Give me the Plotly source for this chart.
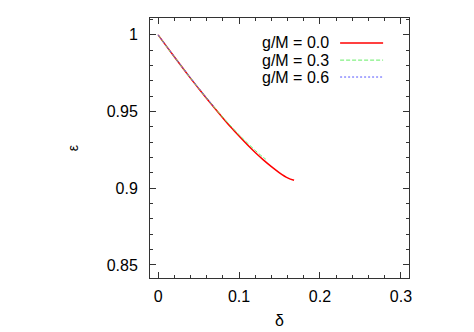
import plotly.graph_objects as go

# data
delta_00 = [0.0, 0.01, 0.02, 0.03, 0.04, 0.05, 0.06, 0.07, 0.08, 0.09, 0.10, 0.11, 0.12, 0.13, 0.14, 0.15, 0.16, 0.168]
eps_00 = [1.0, 0.9928, 0.9857, 0.9787, 0.9718, 0.9651, 0.9585, 0.9521, 0.9458, 0.9397, 0.9340, 0.9285, 0.9233, 0.9185, 0.9141, 0.9101, 0.9068, 0.9052]

delta_03 = [0.0, 0.01, 0.02, 0.03, 0.04, 0.05, 0.06, 0.07, 0.08, 0.09, 0.10, 0.11, 0.12, 0.13, 0.133]
eps_03 = [1.0, 0.9928, 0.9857, 0.9787, 0.9719, 0.9652, 0.9587, 0.9524, 0.9463, 0.9405, 0.9349, 0.9297, 0.9247, 0.9201, 0.9190]

delta_06 = [0.0, 0.01, 0.02, 0.03, 0.04, 0.05, 0.06, 0.07]
eps_06 = [1.0, 0.9929, 0.9858, 0.9789, 0.9721, 0.9654, 0.9589, 0.9525]

series_names = ["g/M = 0.0", "g/M = 0.3", "g/M = 0.6"]
x_ticks = [0, 0.1, 0.2, 0.3]
x_ticklabels = ["0", "0.1", "0.2", "0.3"]
y_ticks = [0.85, 0.9, 0.95, 1.0]
y_ticklabels = ["0.85", "0.9", "0.95", "1"]

colors = ["#ff0000", "#66ee66", "#5555ff"]
dashes = ["solid", "4px,2px", "2px,2px"]
widths = [1.5, 1, 1]

FONT = "Liberation Sans, Arial, Helvetica, sans-serif"

fig = go.Figure()
for xs, ys, name, c, d, w in zip([delta_00, delta_03, delta_06], [eps_00, eps_03, eps_06],
                                 series_names, colors, dashes, widths):
    fig.add_trace(go.Scatter(x=xs, y=ys, mode="lines", name=name, showlegend=False,
                             line=dict(color=c, dash=d, width=w, shape="spline")))

# gnuplot-style key: text right aligned, sample line to the right
legend_y = [0.904, 0.838, 0.773]
for name, c, d, w, yy in zip(series_names, colors, dashes, widths, legend_y):
    fig.add_annotation(x=0.699, y=yy, xref="paper", yref="paper", text=name, showarrow=False,
                       xanchor="right", yanchor="middle", font=dict(size=16, color="black", family=FONT))
    fig.add_shape(type="line", xref="paper", yref="paper", x0=0.734, x1=0.900, y0=yy, y1=yy,
                  line=dict(color=c, dash=d, width=w))

axis_common = dict(showgrid=False, zeroline=False, showline=True, linecolor="#333", linewidth=1,
                   mirror="allticks", ticks="inside", ticklen=6, tickcolor="#333", automargin=False,
                   tickfont=dict(size=16, color="black", family=FONT))

fig.update_xaxes(range=[-0.01, 0.31], tickvals=x_ticks, ticktext=x_ticklabels,
                 minor=dict(ticks="inside", ticklen=3, dtick=0.02, tick0=0, tickcolor="#333"),
                 title=dict(text="δ", font=dict(size=16, color="black", family=FONT), standoff=10),
                 ticklabelstandoff=4, **axis_common)
fig.update_yaxes(range=[0.8415, 1.011], tickvals=y_ticks, ticktext=y_ticklabels,
                 minor=dict(ticks="inside", ticklen=3, dtick=0.01, tick0=0.85, tickcolor="#333"),
                 title=dict(text="ε", font=dict(size=14, color="black", family=FONT), standoff=24),
                 ticklabelstandoff=8, **axis_common)

# the page body has an 8px margin, so the figure is offset by 8px in the window
fig.update_layout(width=466, height=324, margin=dict(l=142, r=65, t=10, b=54),
                  plot_bgcolor="white", paper_bgcolor="white", font=dict(family=FONT))

fig.write_html("out.html")
